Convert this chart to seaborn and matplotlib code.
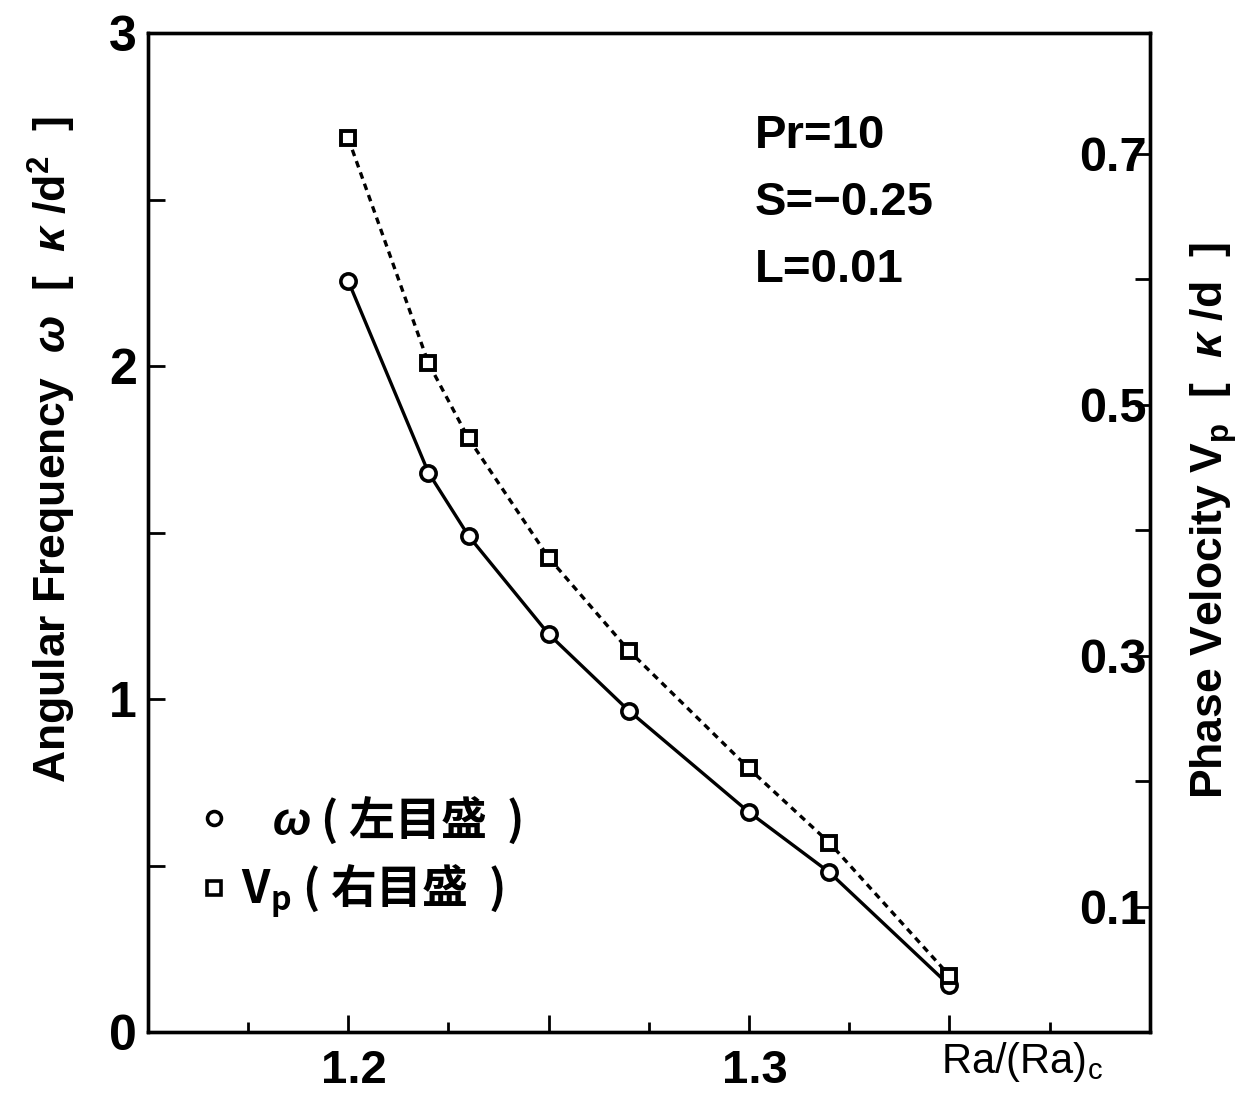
import matplotlib
matplotlib.use("Agg")
import matplotlib.pyplot as plt
import matplotlib.transforms as mtransforms
from matplotlib.lines import Line2D
import seaborn as sns
import pandas as pd

# data
ra_ratio = [1.20, 1.22, 1.23, 1.25, 1.27, 1.30, 1.32, 1.35]
omega = [2.255, 1.68, 1.49, 1.195, 0.965, 0.66, 0.48, 0.14]
v_phase = [0.712, 0.533, 0.473, 0.378, 0.304, 0.210, 0.151, 0.045]

x_ticks = [1.175, 1.2, 1.225, 1.25, 1.275, 1.3, 1.325, 1.35, 1.375]
x_labels = ['', '1.2', '', '', '', '1.3', '', '', '']
left_ticks = [0, 0.5, 1, 1.5, 2, 2.5, 3]
left_labels = ['0', '', '1', '', '2', '', '3']
right_ticks = [0.1, 0.2, 0.3, 0.4, 0.5, 0.6, 0.7]
right_labels = ['0.1', '', '0.3', '', '0.5', '', '0.7']

df = pd.DataFrame({'ra': ra_ratio, 'omega': omega, 'vp': v_phase})

sns.set_style('ticks')
plt.rcParams['font.family'] = ['Liberation Sans', 'Noto Sans CJK JP', 'DejaVu Sans']
plt.rcParams['mathtext.fontset'] = 'custom'
plt.rcParams['mathtext.rm'] = 'Liberation Sans:bold'
plt.rcParams['mathtext.it'] = 'Liberation Sans:italic:bold'
for k in ['text.color', 'axes.edgecolor', 'axes.labelcolor', 'xtick.color', 'ytick.color']:
    plt.rcParams[k] = 'black'

fig = plt.figure(figsize=(12.43, 11.02), dpi=100)
ax = fig.add_axes([0.119, 0.0635, 0.806, 0.9065])
ax2 = ax.twinx()

sns.lineplot(data=df, x='ra', y='omega', ax=ax, color='black', linewidth=2.4,
             marker='o', markersize=11, markerfacecolor='white',
             markeredgecolor='black', markeredgewidth=2.6)
sns.lineplot(data=df, x='ra', y='vp', ax=ax2, color='black', linewidth=2.4,
             linestyle=(0, (2, 1.6)), marker='s', markersize=10,
             markerfacecolor='white', markeredgecolor='black', markeredgewidth=2.8)

ax.set_xlim(1.15, 1.4)
ax.set_ylim(0, 3)
ax2.set_ylim(0, 0.796)

for a in (ax, ax2):
    for s in a.spines.values():
        s.set_linewidth(2.4)
        s.set_visible(True)

ax.set_xticks(x_ticks)
ax.set_xticklabels(x_labels, fontsize=34, fontweight='bold')
ax.set_yticks(left_ticks)
ax.set_yticklabels(left_labels, fontsize=36, fontweight='bold')
ax.tick_params(axis='x', direction='in', length=7, width=2.0, pad=12)
ax.tick_params(axis='y', direction='in', length=12, width=2.0, pad=8)
# longer ticks every 0.05
for tick, val in zip(ax.xaxis.get_major_ticks(), x_ticks):
    if abs(round(val / 0.05) * 0.05 - val) < 1e-6:
        tick.tick1line.set_markersize(12)
shift = mtransforms.ScaledTranslation(6 / 100, 0, fig.dpi_scale_trans)
for lab in ax.get_xticklabels():
    lab.set_transform(lab.get_transform() + shift)

ax2.set_yticks(right_ticks)
ax2.set_yticklabels(right_labels, fontsize=35, fontweight='bold')
ax2.tick_params(axis='y', direction='in', length=11, width=2.0, pad=-2)
for lab in ax2.get_yticklabels():
    lab.set_horizontalalignment('right')

ax.set_xlabel('Ra/(Ra)$_\\mathregular{c}$', fontsize=30)
ax.xaxis.set_label_coords(0.872, -0.008)
ax.set_ylabel('Angular Frequency  $\\mathit{\\omega}$  [  $\\mathit{\\kappa}$ /d$^\\mathregular{2}$  ]',
              fontsize=32, fontweight='bold')
ax.yaxis.set_label_coords(-0.07, 0.583)
ax2.set_ylabel('Phase Velocity V$_\\mathregular{p}$  [  $\\mathit{\\kappa}$ /d  ]',
               fontsize=32, fontweight='bold')
ax2.yaxis.set_label_coords(1.038, 0.5125)

ax.text(0.606, 0.919, 'Pr=10\nS=\u22120.25\nL=0.01', transform=ax.transAxes,
        fontsize=34, fontweight='bold', va='top', ha='left', linespacing=1.68)

handles = [
    Line2D([], [], linestyle='none', marker='o', markersize=10,
           markerfacecolor='white', markeredgecolor='black', markeredgewidth=2.6),
    Line2D([], [], linestyle='none', marker='s', markersize=10,
           markerfacecolor='white', markeredgecolor='black', markeredgewidth=2.6),
]
labels = ['   $\\mathit{\\omega}$ ( 左目盛  )', 'V$_\\mathregular{p}$ ( 右目盛  )']
leg = ax.legend(handles, labels, loc='upper left', bbox_to_anchor=(0.044, 0.238),
                frameon=False, handlelength=0.95, handletextpad=0.12, labelspacing=0.38,
                borderpad=0, borderaxespad=0,
                prop={'family': ['Noto Sans CJK JP', 'DejaVu Sans'], 'weight': 'bold', 'size': 33})

fig.savefig('out.png', dpi=100)
